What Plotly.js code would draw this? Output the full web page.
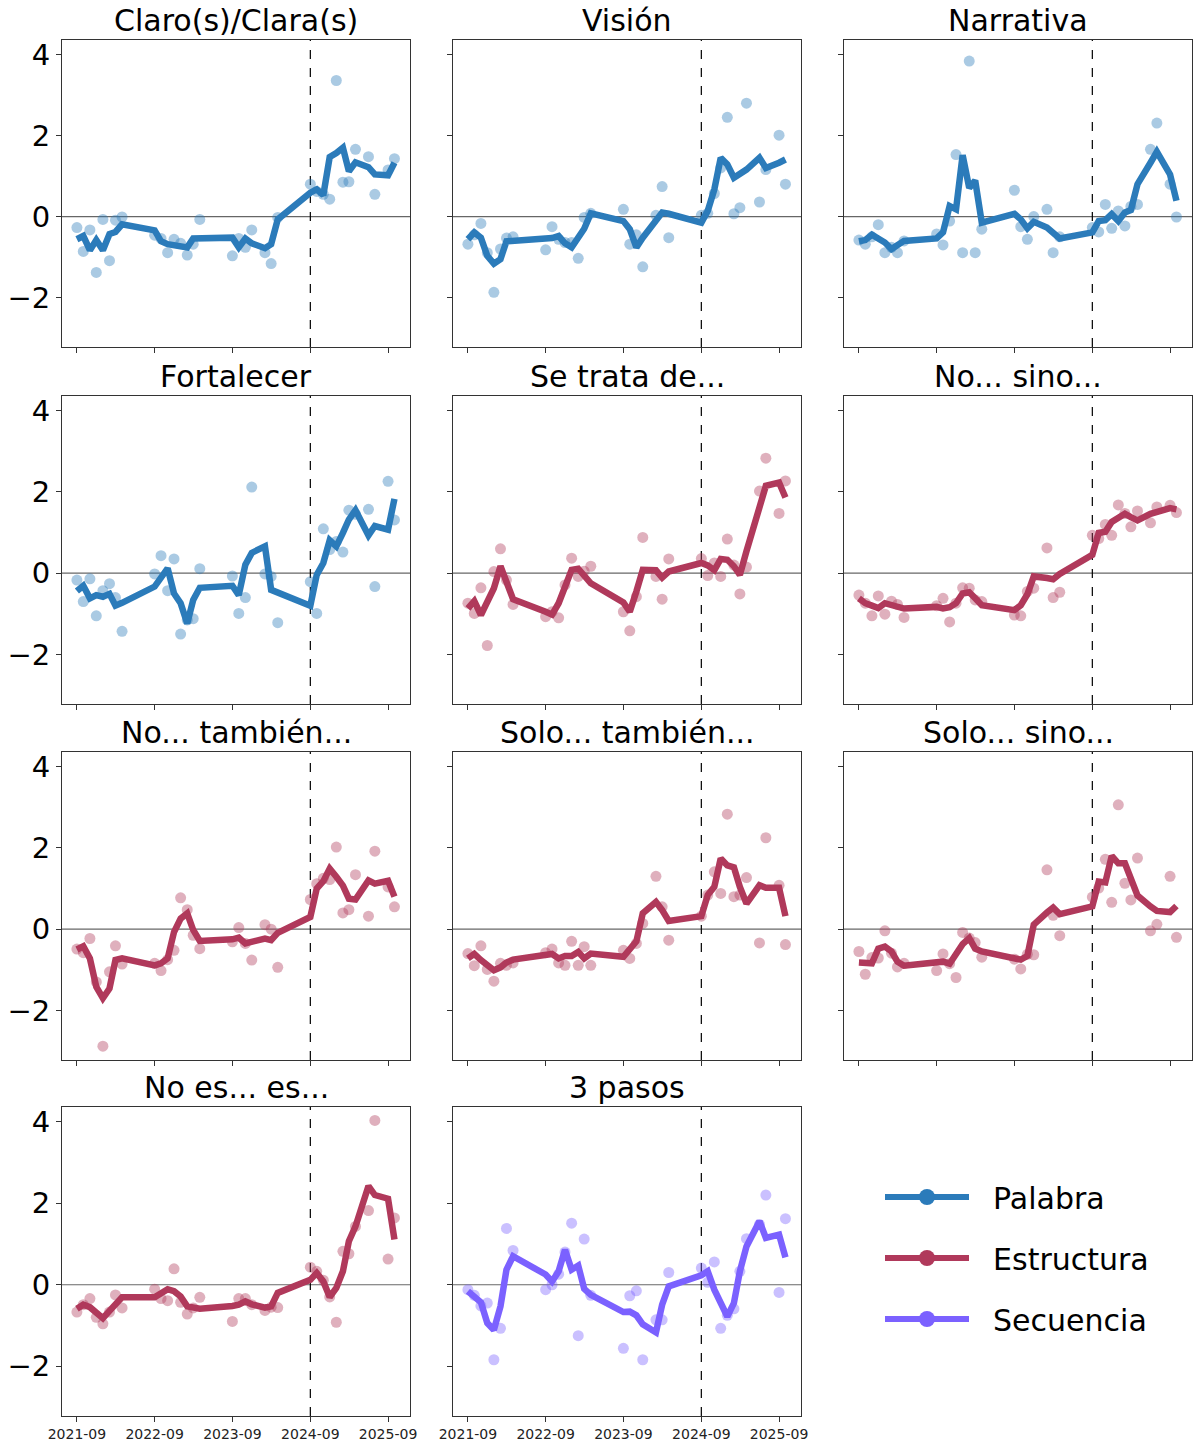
<!DOCTYPE html>
<html>
<head>
<meta charset="utf-8">
<script src="https://cdn.plot.ly/plotly-3.0.1.min.js"></script>
<style>
  body { margin: 0; background: #fff; }
  #chart { width: 1200px; height: 1446px; }
</style>
</head>
<body>
<div id="chart"></div>
<script>
// monthly observation dates (gaps are months with no data)
const dates = [
    '2021-09-01', '2021-10-01', '2021-11-01', '2021-12-01', '2022-01-01', '2022-02-01', '2022-03-01', '2022-04-01',
    '2022-09-01', '2022-10-01', '2022-11-01', '2022-12-01', '2023-01-01', '2023-02-01', '2023-03-01', '2023-04-01',
    '2023-09-01', '2023-10-01', '2023-11-01', '2023-12-01',
    '2024-02-01', '2024-03-01', '2024-04-01',
    '2024-09-01', '2024-10-01', '2024-11-01', '2024-12-01', '2025-01-01', '2025-02-01', '2025-03-01', '2025-04-01',
    '2025-06-01', '2025-07-01',
    '2025-09-01', '2025-10-01'
];
const cutoffDate = '2024-09-01';
const xTickVals = ['2021-09-01', '2022-09-01', '2023-09-01', '2024-09-01', '2025-09-01'];
const xTickText = ['2021-09', '2022-09', '2023-09', '2024-09', '2025-09'];
const yTickVals = [-2, 0, 2, 4];
const yTickText = ['\u22122', '0', '2', '4'];

const titles = ['Claro(s)/Clara(s)', 'Visión', 'Narrativa', 'Fortalecer', 'Se trata de...', 'No... sino...',
    'No... también...', 'Solo... también...', 'Solo... sino...', 'No es... es...', '3 pasos'];
const kinds = ['Palabra', 'Palabra', 'Palabra', 'Palabra', 'Estructura', 'Estructura',
    'Estructura', 'Estructura', 'Estructura', 'Estructura', 'Secuencia'];
const kindNames = ['Palabra', 'Estructura', 'Secuencia'];
const kindColors = {Palabra: '#2b7bba', Estructura: '#b0395b', Secuencia: '#7b61ff'};

// monthly values (dots) and smoothed trend (line) per panel
const claroPts = [-0.27, -0.86, -0.33, -1.38, -0.07, -1.09, -0.09, -0.01, -0.46, -0.54, -0.89, -0.56, -0.66, -0.95, -0.68, -0.07,
    -0.97, -0.54, -0.76, -0.33, -0.89, -1.16, -0.02, 0.80, 0.62, 0.55, 0.43, 3.36, 0.85, 0.86, 1.66, 1.48, 0.55, 1.15, 1.43];
const claroLine = [-0.56, -0.48, -0.83, -0.58, -0.83, -0.43, -0.38, -0.19, -0.34, -0.61, -0.68, -0.71, -0.74, -0.76, -0.54, -0.54,
    -0.52, -0.76, -0.54, -0.66, -0.78, -0.68, -0.07, 0.59, 0.67, 0.53, 1.47, 1.57, 1.70, 1.12, 1.34, 1.22, 1.04, 1.02, 1.33];

const visionPts = [-0.68, -0.45, -0.17, -0.89, -1.87, -0.80, -0.53, -0.50, -0.82, -0.25, -0.56, -0.64, -0.64, -1.03, -0.02, 0.08,
    0.18, -0.68, -0.45, -1.24, 0.03, 0.74, -0.52, 0.03, 0.08, 0.57, 1.20, 2.45, 0.07, 0.22, 2.80, 0.36, 1.16, 2.01, 0.80];
const visionLine = [-0.56, -0.39, -0.52, -0.97, -1.16, -1.05, -0.61, -0.60, -0.52, -0.53, -0.48, -0.66, -0.76, -0.55, -0.30, 0.08,
    -0.11, -0.31, -0.76, -0.52, -0.11, 0.10, 0.07, -0.15, 0.14, 0.67, 1.45, 1.29, 0.96, 1.06, 1.16, 1.45, 1.20, 1.33, 1.41];

const narrativaPts = [-0.58, -0.68, -0.50, -0.20, -0.89, -0.76, -0.89, -0.60, -0.43, -0.70, -0.11, 1.53, -0.89, 3.84, -0.89, -0.31,
    0.65, -0.25, -0.56, 0.00, 0.18, -0.89, -0.50, -0.27, -0.38, 0.30, -0.29, 0.14, -0.23, 0.25, 0.30, 1.66, 2.31, 0.80, -0.01];
const narrativaLine = [-0.61, -0.58, -0.45, -0.54, -0.64, -0.80, -0.70, -0.60, -0.54, -0.39, 0.26, 0.18, 1.52, 0.71, 0.89, -0.15,
    0.07, -0.07, -0.29, -0.13, -0.27, -0.42, -0.54, -0.39, -0.11, -0.09, 0.06, -0.11, 0.10, 0.16, 0.80, 1.33, 1.60, 1.04, 0.39];

const fortalecerPts = [-0.17, -0.70, -0.14, -1.05, -0.43, -0.26, -0.60, -1.43, -0.02, 0.43, -0.43, 0.35, -1.50, -1.15, -1.12, 0.11,
    -0.07, -0.99, -0.60, 2.12, -0.02, -0.08, -1.22, -0.21, -0.99, 1.09, 0.58, 0.78, 0.52, 1.55, 1.45, 1.57, -0.33, 2.26, 1.31];
const fortalecerLine = [-0.44, -0.31, -0.62, -0.54, -0.58, -0.51, -0.80, -0.73, -0.33, -0.11, 0.12, -0.50, -0.74, -1.24, -0.66, -0.36,
    -0.31, -0.54, 0.21, 0.50, 0.66, -0.41, -0.48, -0.80, -0.04, 0.25, 0.81, 0.66, 0.99, 1.32, 1.55, 0.93, 1.16, 1.07, 1.83];

const seTrataPts = [-0.74, -0.99, -0.36, -1.78, 0.04, 0.60, -0.17, -0.77, -1.07, -0.95, -1.10, -0.29, 0.37, -0.08, 0.05, 0.17,
    -0.95, -1.42, -0.58, 0.88, -0.08, -0.64, 0.35, 0.36, -0.06, 0.25, -0.08, 0.84, 0.20, -0.51, 0.15, 2.02, 2.83, 1.47, 2.27];
const seTrataLine = [-0.87, -0.69, -1.03, -0.70, -0.37, 0.17, -0.27, -0.64, -0.95, -1.02, -0.74, -0.29, 0.08, 0.11, -0.08, -0.25,
    -0.72, -0.95, -0.45, 0.08, 0.07, -0.11, 0.04, 0.25, 0.19, 0.07, 0.35, 0.33, 0.17, -0.04, 0.54, 1.65, 2.15, 2.23, 1.86];

const noSinoPts = [-0.54, -0.74, -1.05, -0.56, -1.01, -0.69, -0.77, -1.09, -0.80, -0.62, -1.20, -0.74, -0.36, -0.37, -0.66, -0.70,
    -1.03, -1.05, -0.45, -0.37, 0.62, -0.60, -0.47, 0.93, 0.85, 1.20, 0.93, 1.68, 1.47, 1.14, 1.53, 1.24, 1.63, 1.67, 1.49];
const noSinoLine = [-0.62, -0.74, -0.80, -0.86, -0.74, -0.78, -0.83, -0.87, -0.83, -0.87, -0.84, -0.74, -0.50, -0.47, -0.62, -0.79,
    -0.91, -0.79, -0.52, -0.08, -0.12, -0.15, -0.02, 0.45, 0.99, 1.02, 1.26, 1.38, 1.46, 1.38, 1.30, 1.46, 1.51, 1.60, 1.57];

const noTambienPts = [-0.49, -0.58, -0.23, -1.30, -2.88, -1.05, -0.41, -0.86, -0.84, -1.02, -0.75, -0.52, 0.77, 0.48, -0.15, -0.48,
    -0.31, 0.04, -0.35, -0.76, 0.11, 0.00, -0.94, 0.73, 1.12, 1.25, 1.22, 2.02, 0.40, 0.48, 1.34, 0.32, 1.92, 1.04, 0.55];
const noTambienLine = [-0.50, -0.42, -0.72, -1.42, -1.70, -1.46, -0.76, -0.72, -0.89, -0.84, -0.72, -0.07, 0.26, 0.39, -0.02, -0.29,
    -0.25, -0.21, -0.35, -0.31, -0.23, -0.27, -0.09, 0.30, 1.00, 1.18, 1.49, 1.29, 1.07, 0.75, 0.73, 1.20, 1.12, 1.19, 0.80];

const soloTambienPts = [-0.60, -0.90, -0.41, -0.99, -1.28, -0.84, -0.89, -0.83, -0.58, -0.49, -0.83, -0.89, -0.30, -0.89, -0.43, -0.89,
    -0.52, -0.72, -0.35, 0.14, 1.30, 0.55, -0.27, 0.32, 0.84, 1.41, 0.88, 2.83, 0.80, 0.84, 1.27, -0.34, 2.25, 1.08, -0.38];
const soloTambienLine = [-0.72, -0.61, -0.76, -0.91, -1.01, -0.94, -0.82, -0.75, -0.60, -0.61, -0.72, -0.66, -0.66, -0.56, -0.72, -0.60,
    -0.68, -0.52, -0.30, 0.39, 0.67, 0.47, 0.20, 0.32, 0.84, 1.04, 1.74, 1.57, 1.52, 1.04, 0.63, 1.08, 1.02, 1.02, 0.32];

const soloSinoPts = [-0.55, -1.11, -0.70, -0.71, -0.04, -0.59, -0.93, -0.84, -1.02, -0.61, -0.85, -1.19, -0.08, -0.22, -0.33, -0.69,
    -0.74, -0.98, -0.62, -0.63, 1.46, 0.34, -0.16, 0.79, 1.01, 1.72, 0.66, 3.06, 1.13, 0.72, 1.75, -0.04, 0.12, 1.30, -0.20];
const soloSinoLine = [-0.82, -0.82, -0.84, -0.48, -0.43, -0.55, -0.80, -0.90, -0.82, -0.80, -0.85, -0.61, -0.37, -0.22, -0.48, -0.55,
    -0.74, -0.75, -0.66, 0.11, 0.41, 0.53, 0.37, 0.56, 1.17, 1.15, 1.80, 1.62, 1.62, 1.23, 0.83, 0.56, 0.45, 0.42, 0.57];

const noEsPts = [-0.67, -0.49, -0.34, -0.80, -0.96, -0.67, -0.25, -0.57, -0.11, -0.34, -0.39, 0.39, -0.43, -0.72, -0.57, -0.31,
    -0.90, -0.34, -0.34, -0.49, -0.63, -0.55, -0.56, 0.43, 0.33, 0.11, -0.30, -0.92, 0.82, 0.76, 1.43, 1.82, 4.03, 0.63, 1.64];
const noEsLine = [-0.59, -0.49, -0.55, -0.70, -0.82, -0.64, -0.48, -0.31, -0.31, -0.20, -0.11, -0.16, -0.29, -0.53, -0.57, -0.59,
    -0.52, -0.49, -0.41, -0.48, -0.56, -0.53, -0.20, 0.12, 0.29, 0.08, -0.30, -0.08, 0.33, 1.07, 1.43, 2.42, 2.20, 2.11, 1.11];

const tresPasosPts = [-0.12, -0.26, -0.52, -0.45, -1.84, -1.07, 1.38, 0.84, -0.12, 0.00, 0.26, 0.80, 1.51, -1.25, 1.12, -0.26,
    -1.56, -0.27, -0.15, -1.84, -0.86, -0.86, 0.30, 0.41, 0.06, 0.56, -1.07, -0.75, -0.59, 0.33, 1.13, 1.48, 2.20, -0.19, 1.62];
const tresPasosLine = [-0.16, -0.31, -0.43, -0.94, -1.11, -0.53, 0.37, 0.70, 0.25, 0.08, 0.33, 0.86, 0.37, 0.47, -0.10, -0.25,
    -0.67, -0.66, -0.75, -0.97, -1.17, -0.49, -0.04, 0.23, 0.33, -0.12, -0.43, -0.78, -0.45, 0.33, 0.94, 1.56, 1.15, 1.23, 0.67];

const panelPts = [claroPts, visionPts, narrativaPts, fortalecerPts, seTrataPts, noSinoPts,
    noTambienPts, soloTambienPts, soloSinoPts, noEsPts, tresPasosPts];
const panelLines = [claroLine, visionLine, narrativaLine, fortalecerLine, seTrataLine, noSinoLine,
    noTambienLine, soloTambienLine, soloSinoLine, noEsLine, tresPasosLine];

// panel boxes in pixels
const W = 1200, H = 1446;
const colPx = [[62, 410], [453, 801], [844, 1192]];
const rowPx = [[40, 347], [396, 704], [752, 1060], [1107, 1416]];
const FONT = 'DejaVu Sans, sans-serif';

const traces = [];
const layout = {
    width: W, height: H,
    margin: {t: 0, l: 0, r: 0, b: 0},
    paper_bgcolor: '#fff', plot_bgcolor: '#fff',
    font: {family: FONT, color: '#000'},
    showlegend: true,
    legend: {
        x: 880 / W, y: 1 - 1171 / H, xanchor: 'left', yanchor: 'top',
        font: {size: 30, family: FONT}, itemwidth: 84, tracegroupgap: 19,
        bgcolor: 'rgba(0,0,0,0)'
    },
    shapes: [],
    annotations: []
};

titles.forEach((title, i) => {
    const r = Math.floor(i / 3), c = i % 3, n = i === 0 ? '' : String(i + 1);
    const color = kindColors[kinds[i]];
    traces.push({
        x: dates, y: panelPts[i], type: 'scatter', mode: 'markers', xaxis: 'x' + n, yaxis: 'y' + n,
        marker: {size: 11, color: color, opacity: 0.4}, showlegend: false, hoverinfo: 'skip'
    });
    traces.push({
        x: dates, y: panelLines[i], type: 'scatter', mode: 'lines', xaxis: 'x' + n, yaxis: 'y' + n,
        line: {color: color, width: 6.5}, showlegend: false, hoverinfo: 'skip'
    });
    layout['xaxis' + n] = {
        domain: [colPx[c][0] / W, colPx[c][1] / W], anchor: 'y' + n, type: 'date',
        range: ['2021-06-23', '2025-12-13'], tickvals: xTickVals, ticktext: xTickText,
        showticklabels: r === 3, tickfont: {size: 14, color: '#222'}, ticks: 'outside', ticklen: 5,
        tickcolor: '#333', showgrid: false, zeroline: false, showline: true, mirror: true,
        linecolor: '#333', linewidth: 1
    };
    layout['yaxis' + n] = {
        domain: [1 - rowPx[r][1] / H, 1 - rowPx[r][0] / H], anchor: 'x' + n,
        range: [-3.22, 4.36], tickvals: yTickVals, ticktext: yTickText,
        showticklabels: c === 0, tickfont: {size: 29}, ticks: 'outside', ticklen: 5,
        tickcolor: '#333', showgrid: false, zeroline: false, showline: true, mirror: true,
        linecolor: '#333', linewidth: 1
    };
    layout.shapes.push({
        type: 'line', layer: 'below', xref: 'x' + n + ' domain', x0: 0, x1: 1,
        yref: 'y' + n, y0: 0, y1: 0, line: {color: 'rgba(0,0,0,0.6)', width: 1.2}
    });
    layout.shapes.push({
        type: 'line', layer: 'below', xref: 'x' + n, x0: cutoffDate, x1: cutoffDate,
        yref: 'y' + n + ' domain', y0: 0, y1: 1, line: {color: '#000', width: 1.2, dash: 'dash'}
    });
    layout.annotations.push({
        text: title, xref: 'paper', yref: 'paper', showarrow: false,
        x: (colPx[c][0] + colPx[c][1]) / 2 / W, y: 1 - rowPx[r][0] / H,
        xanchor: 'center', yanchor: 'bottom', yshift: 0, font: {size: 30, family: FONT}
    });
});

// legend entries
kindNames.forEach(k => {
    traces.push({
        x: [null], y: [null], type: 'scatter', mode: 'lines+markers', name: '\u00a0\u00a0' + k, legendgroup: k,
        line: {color: kindColors[k], width: 6}, marker: {color: kindColors[k], size: 24},
        showlegend: true, hoverinfo: 'skip'
    });
});

Plotly.newPlot('chart', traces, layout, {staticPlot: true, displayModeBar: false});
</script>
</body>
</html>
